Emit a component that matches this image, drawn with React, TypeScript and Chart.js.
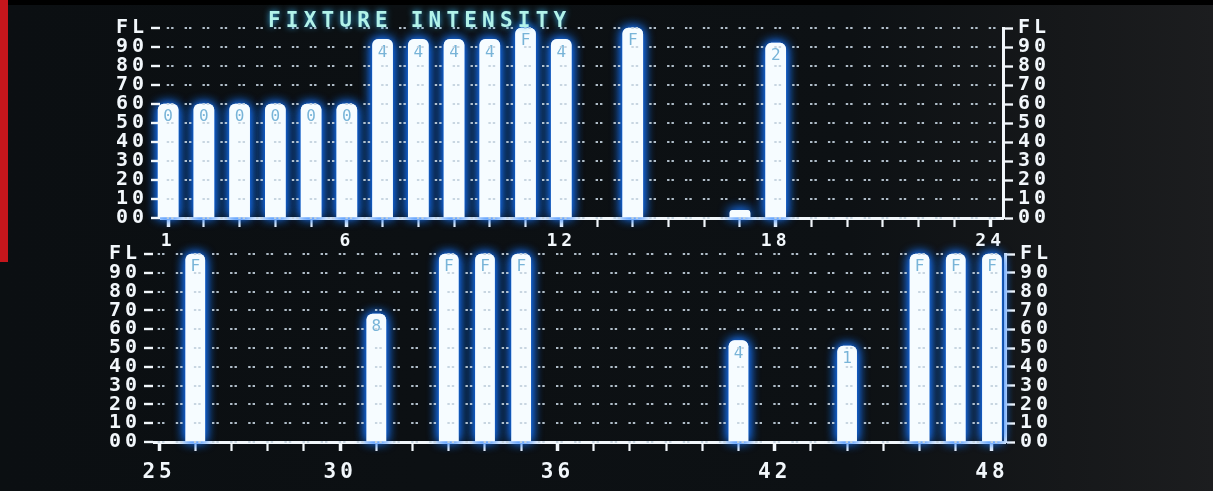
import React, { useEffect, useRef } from 'react';
import { Chart, registerables } from 'chart.js';

Chart.register(...registerables);

const TITLE = 'FIXTURE INTENSITY';
const Y_TICK_LABELS = ['00', '10', '20', '30', '40', '50', '60', '70', '80', '90', 'FL'];

const topChannels = [1, 2, 3, 4, 5, 6, 7, 8, 9, 10, 11, 12, 13, 14, 15, 16, 17, 18, 19, 20, 21, 22, 23, 24];
const topValues = [60, 60, 60, 60, 60, 60, 94, 94, 94, 94, 100, 94, 0, 100, 0, 0, 4, 92, 0, 0, 0, 0, 0, 0];
const topLabeled = [1, 6, 12, 18, 24];

const bottomChannels = [25, 26, 27, 28, 29, 30, 31, 32, 33, 34, 35, 36, 37, 38, 39, 40, 41, 42, 43, 44, 45, 46, 47, 48];
const bottomValues = [0, 100, 0, 0, 0, 0, 68, 0, 100, 100, 100, 0, 0, 0, 0, 0, 54, 0, 0, 51, 0, 100, 100, 100];
const bottomLabeled = [25, 30, 36, 42, 48];

const CANVAS_W = 1213;
const MONO = "'DejaVu Sans Mono', 'Liberation Mono', monospace";

type Panel = {
  channels: number[];
  values: number[];
  labeled: number[];
  xMin: number;
  xMax: number;
  areaLeft: number;
  areaRight: number;
  padTop: number;
  xAxisH: number;
  height: number;
  barW: number;
  yFont: number;
  xFont: number;
  xPad: number;
  title?: string;
};

const tagFor = (v: number) => (v >= 100 ? 'F' : v >= 15 ? String(v % 10) : '');

function buildConfig(p: Panel): any {
  const spanPx = p.areaRight - p.areaLeft;
  const chPx = spanPx / (p.xMax - p.xMin);
  const period = chPx / 2;
  const dash = [2.4, 2, 2.4, period - 6.8];
  const c1 = ((p.channels[0] - p.xMin) / (p.xMax - p.xMin)) * spanPx;
  const dashOffset = (((3.4 - c1) % period) + period) % period;

  const white = '#f2f7fb';

  const crtPlugin = {
    id: 'crt',
    beforeDraw(chart: any) {
      chart.ctx.letterSpacing = '4px';
    },
    beforeDatasetsDraw(chart: any) {
      const ctx = chart.ctx;
      ctx.save();
      ctx.shadowColor = 'rgba(22,118,255,1)';
      ctx.shadowBlur = 12;
    },
    afterDatasetsDraw(chart: any) {
      const ctx = chart.ctx;
      const meta = chart.getDatasetMeta(0);
      meta.controller.draw();
      ctx.restore();
      ctx.save();
      ctx.letterSpacing = '0px';
      ctx.font = `16px ${MONO}`;
      ctx.fillStyle = '#78b4d8';
      ctx.textAlign = 'center';
      ctx.textBaseline = 'top';
      meta.data.forEach((el: any, i: number) => {
        const v = p.values[i];
        const t = tagFor(v);
        if (!t || el.y == null || isNaN(el.y)) return;
        ctx.fillText(t, el.x, el.y + 5);
      });
      ctx.restore();
    },
    afterDraw(chart: any) {
      if (!p.title) return;
      const ctx = chart.ctx;
      ctx.save();
      ctx.font = `bold 21px ${MONO}`;
      ctx.letterSpacing = '5.2px';
      ctx.fillStyle = '#b2f3ea';
      ctx.shadowColor = 'rgba(60,190,255,0.9)';
      ctx.shadowBlur = 6;
      ctx.textAlign = 'left';
      ctx.textBaseline = 'alphabetic';
      ctx.fillText(p.title, 268, 27);
      ctx.restore();
    },
  };

  const yTicks = {
    stepSize: 10,
    autoSkip: false,
    color: white,
    font: { family: MONO, size: p.yFont, weight: 'bold' },
    padding: 3,
    callback: (v: number) => Y_TICK_LABELS[Math.round(v / 10)] ?? '',
  };

  return {
    type: 'bar',
    data: {
      datasets: [
        {
          data: p.channels.map((c, i) => ({ x: c, y: p.values[i] > 0 ? p.values[i] : null })),
          backgroundColor: '#f6fcff',
          borderWidth: 0,
          borderSkipped: 'bottom',
          borderRadius: { topLeft: 6, topRight: 6, bottomLeft: 0, bottomRight: 0 },
          barThickness: p.barW,
          clip: false,
        },
      ],
    },
    options: {
      animation: false,
      responsive: false,
      devicePixelRatio: 1,
      layout: { padding: { top: p.padTop, left: 0, right: 0, bottom: 0 } },
      plugins: {
        legend: { display: false },
        tooltip: { enabled: false },
        title: { display: false },
      },
      scales: {
        x: {
          type: 'linear',
          min: p.xMin,
          max: p.xMax,
          offset: false,
          afterBuildTicks: (scale: any) => {
            scale.ticks = p.channels.map((c) => ({ value: c }));
          },
          afterFit: (scale: any) => {
            scale.height = p.xAxisH;
          },
          grid: {
            offset: false,
            drawOnChartArea: false,
            drawTicks: true,
            tickLength: 9,
            tickColor: white,
            tickWidth: (ctx: any) => (ctx.tick && p.labeled.includes(ctx.tick.value) ? 3.5 : 2.2),
          },
          border: { display: true, color: white, width: 3 },
          ticks: {
            autoSkip: false,
            maxRotation: 0,
            minRotation: 0,
            padding: p.xPad,
            color: white,
            font: { family: MONO, size: p.xFont, weight: 'bold' },
            callback: (v: number) => (p.labeled.includes(v) ? String(v) : ''),
          },
        },
        y: {
          position: 'left',
          min: 0,
          max: 100,
          afterFit: (scale: any) => {
            scale.width = p.areaLeft;
          },
          grid: {
            z: 1,
            color: 'rgba(195,210,222,0.9)',
            lineWidth: 2,
            drawOnChartArea: true,
            drawTicks: true,
            tickLength: 10,
            tickColor: white,
            tickWidth: 2.4,
          },
          border: { display: true, color: white, width: 3, dash, dashOffset },
          ticks: yTicks,
        },
        y2: {
          position: 'right',
          min: 0,
          max: 100,
          afterFit: (scale: any) => {
            scale.width = CANVAS_W - p.areaRight;
          },
          grid: {
            drawOnChartArea: false,
            drawTicks: true,
            tickLength: 10,
            tickColor: white,
            tickWidth: 2.4,
          },
          border: { display: true, color: white, width: 3 },
          ticks: { ...yTicks, padding: 5 },
        },
      },
    },
    plugins: [crtPlugin],
  };
}

const topPanel: Panel = {
  channels: topChannels,
  values: topValues,
  labeled: topLabeled,
  xMin: 0.8,
  xMax: 24.36,
  areaLeft: 161,
  areaRight: 1003,
  padTop: 28,
  xAxisH: 34,
  height: 252,
  barW: 20,
  yFont: 20,
  xFont: 18,
  xPad: 4,
  title: TITLE,
};

const bottomPanel: Panel = {
  channels: bottomChannels,
  values: bottomValues,
  labeled: bottomLabeled,
  xMin: 24.86,
  xMax: 48.36,
  areaLeft: 154,
  areaRight: 1005,
  padTop: 18,
  xAxisH: 46,
  height: 252,
  barW: 19,
  yFont: 20,
  xFont: 21,
  xPad: 9,
};

function PanelChart({ panel, top }: { panel: Panel; top: number }) {
  const ref = useRef<HTMLCanvasElement | null>(null);
  useEffect(() => {
    if (!ref.current) return;
    const chart = new Chart(ref.current, buildConfig(panel));
    return () => chart.destroy();
  }, [panel]);
  return (
    <canvas
      ref={ref}
      width={CANVAS_W}
      height={panel.height}
      style={{
        position: 'absolute',
        left: 0,
        top,
        width: CANVAS_W,
        height: panel.height,
        display: 'block',
      }}
    />
  );
}

export default function App() {
  useEffect(() => {
    document.body.style.margin = '0';
    document.body.style.background = '#101315';
  }, []);
  return (
    <div
      style={{
        position: 'relative',
        width: CANVAS_W,
        height: 491,
        overflow: 'hidden',
        background: 'linear-gradient(90deg, #0b0f12 0%, #0d1114 70%, #16181a 88%, #1c1d1f 100%)',
      }}
    >
      <div style={{ position: 'absolute', left: 0, top: 0, width: CANVAS_W, height: 5, background: '#000' }} />
      <PanelChart panel={topPanel} top={0} />
      <PanelChart panel={bottomPanel} top={236} />
      <div style={{ position: 'absolute', left: 0, top: 0, width: 8, height: 262, background: '#c4161c' }} />
      <div style={{ position: 'absolute', left: 0, top: 262, width: 4, height: 229, background: '#0b0f12' }} />
    </div>
  );
}
